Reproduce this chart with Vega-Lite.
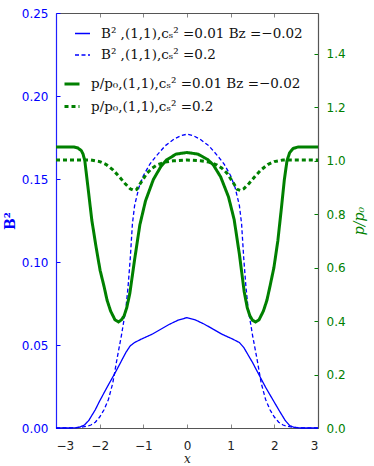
{
  "$schema": "https://vega.github.io/schema/vega-lite/v6.json",
  "width": 262,
  "height": 415,
  "autosize": {"type": "none"},
  "padding": {"left": 56, "top": 13, "right": 56, "bottom": 38},
  "background": "white",
  "config": {
    "view": {"stroke": null},
    "axis": {"grid": false, "labelFont": "DejaVu Sans", "labelFontSize": 12, "tickSize": -4, "tickWidth": 1, "domainWidth": 1.2},
    "legend": {"labelFont": "DejaVu Serif", "labelFontSize": 13.5, "labelLimit": 400, "labelColor": "#111", "symbolType": "stroke", "symbolSize": 225, "labelOffset": 10, "padding": 0, "rowPadding": 6.5, "orient": "none", "title": null}
  },
  "datasets": {
    "b2": [
      {"x": -3, "v": 0, "s": "B² ,(1,1),cₛ² =0.01 Bz =−0.02"},
      {"x": -2.7, "v": 0, "s": "B² ,(1,1),cₛ² =0.01 Bz =−0.02"},
      {"x": -2.55, "v": 0.0001, "s": "B² ,(1,1),cₛ² =0.01 Bz =−0.02"},
      {"x": -2.45, "v": 0.0006, "s": "B² ,(1,1),cₛ² =0.01 Bz =−0.02"},
      {"x": -2.35, "v": 0.0018, "s": "B² ,(1,1),cₛ² =0.01 Bz =−0.02"},
      {"x": -2.25, "v": 0.0045, "s": "B² ,(1,1),cₛ² =0.01 Bz =−0.02"},
      {"x": -2.1, "v": 0.011, "s": "B² ,(1,1),cₛ² =0.01 Bz =−0.02"},
      {"x": -2.0, "v": 0.0163, "s": "B² ,(1,1),cₛ² =0.01 Bz =−0.02"},
      {"x": -1.8, "v": 0.026, "s": "B² ,(1,1),cₛ² =0.01 Bz =−0.02"},
      {"x": -1.65, "v": 0.033, "s": "B² ,(1,1),cₛ² =0.01 Bz =−0.02"},
      {"x": -1.5, "v": 0.0405, "s": "B² ,(1,1),cₛ² =0.01 Bz =−0.02"},
      {"x": -1.4, "v": 0.0455, "s": "B² ,(1,1),cₛ² =0.01 Bz =−0.02"},
      {"x": -1.3, "v": 0.0495, "s": "B² ,(1,1),cₛ² =0.01 Bz =−0.02"},
      {"x": -1.2, "v": 0.0515, "s": "B² ,(1,1),cₛ² =0.01 Bz =−0.02"},
      {"x": -1.05, "v": 0.0535, "s": "B² ,(1,1),cₛ² =0.01 Bz =−0.02"},
      {"x": -0.8, "v": 0.0565, "s": "B² ,(1,1),cₛ² =0.01 Bz =−0.02"},
      {"x": -0.6, "v": 0.0595, "s": "B² ,(1,1),cₛ² =0.01 Bz =−0.02"},
      {"x": -0.4, "v": 0.0625, "s": "B² ,(1,1),cₛ² =0.01 Bz =−0.02"},
      {"x": -0.2, "v": 0.065, "s": "B² ,(1,1),cₛ² =0.01 Bz =−0.02"},
      {"x": 0, "v": 0.0665, "s": "B² ,(1,1),cₛ² =0.01 Bz =−0.02"},
      {"x": 0.2, "v": 0.065, "s": "B² ,(1,1),cₛ² =0.01 Bz =−0.02"},
      {"x": 0.4, "v": 0.0625, "s": "B² ,(1,1),cₛ² =0.01 Bz =−0.02"},
      {"x": 0.6, "v": 0.0595, "s": "B² ,(1,1),cₛ² =0.01 Bz =−0.02"},
      {"x": 0.8, "v": 0.0565, "s": "B² ,(1,1),cₛ² =0.01 Bz =−0.02"},
      {"x": 1.05, "v": 0.0535, "s": "B² ,(1,1),cₛ² =0.01 Bz =−0.02"},
      {"x": 1.2, "v": 0.0515, "s": "B² ,(1,1),cₛ² =0.01 Bz =−0.02"},
      {"x": 1.3, "v": 0.0485, "s": "B² ,(1,1),cₛ² =0.01 Bz =−0.02"},
      {"x": 1.4, "v": 0.044, "s": "B² ,(1,1),cₛ² =0.01 Bz =−0.02"},
      {"x": 1.5, "v": 0.0395, "s": "B² ,(1,1),cₛ² =0.01 Bz =−0.02"},
      {"x": 1.65, "v": 0.032, "s": "B² ,(1,1),cₛ² =0.01 Bz =−0.02"},
      {"x": 1.8, "v": 0.0245, "s": "B² ,(1,1),cₛ² =0.01 Bz =−0.02"},
      {"x": 2.0, "v": 0.0155, "s": "B² ,(1,1),cₛ² =0.01 Bz =−0.02"},
      {"x": 2.1, "v": 0.011, "s": "B² ,(1,1),cₛ² =0.01 Bz =−0.02"},
      {"x": 2.25, "v": 0.0045, "s": "B² ,(1,1),cₛ² =0.01 Bz =−0.02"},
      {"x": 2.35, "v": 0.0015, "s": "B² ,(1,1),cₛ² =0.01 Bz =−0.02"},
      {"x": 2.45, "v": 0.0004, "s": "B² ,(1,1),cₛ² =0.01 Bz =−0.02"},
      {"x": 2.6, "v": 0, "s": "B² ,(1,1),cₛ² =0.01 Bz =−0.02"},
      {"x": 3, "v": 0, "s": "B² ,(1,1),cₛ² =0.01 Bz =−0.02"},
      {"x": -3, "v": 0, "s": "B² ,(1,1),cₛ² =0.2"},
      {"x": -2.6, "v": 0.0001, "s": "B² ,(1,1),cₛ² =0.2"},
      {"x": -2.45, "v": 0.0004, "s": "B² ,(1,1),cₛ² =0.2"},
      {"x": -2.3, "v": 0.001, "s": "B² ,(1,1),cₛ² =0.2"},
      {"x": -2.2, "v": 0.0018, "s": "B² ,(1,1),cₛ² =0.2"},
      {"x": -2.1, "v": 0.0035, "s": "B² ,(1,1),cₛ² =0.2"},
      {"x": -2.0, "v": 0.0066, "s": "B² ,(1,1),cₛ² =0.2"},
      {"x": -1.9, "v": 0.011, "s": "B² ,(1,1),cₛ² =0.2"},
      {"x": -1.8, "v": 0.0172, "s": "B² ,(1,1),cₛ² =0.2"},
      {"x": -1.7, "v": 0.027, "s": "B² ,(1,1),cₛ² =0.2"},
      {"x": -1.6, "v": 0.042, "s": "B² ,(1,1),cₛ² =0.2"},
      {"x": -1.5, "v": 0.056, "s": "B² ,(1,1),cₛ² =0.2"},
      {"x": -1.4, "v": 0.072, "s": "B² ,(1,1),cₛ² =0.2"},
      {"x": -1.35, "v": 0.085, "s": "B² ,(1,1),cₛ² =0.2"},
      {"x": -1.3, "v": 0.102, "s": "B² ,(1,1),cₛ² =0.2"},
      {"x": -1.25, "v": 0.123, "s": "B² ,(1,1),cₛ² =0.2"},
      {"x": -1.2, "v": 0.134, "s": "B² ,(1,1),cₛ² =0.2"},
      {"x": -1.1, "v": 0.145, "s": "B² ,(1,1),cₛ² =0.2"},
      {"x": -1.0, "v": 0.152, "s": "B² ,(1,1),cₛ² =0.2"},
      {"x": -0.85, "v": 0.159, "s": "B² ,(1,1),cₛ² =0.2"},
      {"x": -0.7, "v": 0.164, "s": "B² ,(1,1),cₛ² =0.2"},
      {"x": -0.5, "v": 0.17, "s": "B² ,(1,1),cₛ² =0.2"},
      {"x": -0.3, "v": 0.174, "s": "B² ,(1,1),cₛ² =0.2"},
      {"x": -0.15, "v": 0.176, "s": "B² ,(1,1),cₛ² =0.2"},
      {"x": 0, "v": 0.177, "s": "B² ,(1,1),cₛ² =0.2"},
      {"x": 0.15, "v": 0.176, "s": "B² ,(1,1),cₛ² =0.2"},
      {"x": 0.3, "v": 0.174, "s": "B² ,(1,1),cₛ² =0.2"},
      {"x": 0.5, "v": 0.17, "s": "B² ,(1,1),cₛ² =0.2"},
      {"x": 0.7, "v": 0.164, "s": "B² ,(1,1),cₛ² =0.2"},
      {"x": 0.85, "v": 0.159, "s": "B² ,(1,1),cₛ² =0.2"},
      {"x": 1.0, "v": 0.152, "s": "B² ,(1,1),cₛ² =0.2"},
      {"x": 1.1, "v": 0.145, "s": "B² ,(1,1),cₛ² =0.2"},
      {"x": 1.2, "v": 0.134, "s": "B² ,(1,1),cₛ² =0.2"},
      {"x": 1.25, "v": 0.123, "s": "B² ,(1,1),cₛ² =0.2"},
      {"x": 1.3, "v": 0.102, "s": "B² ,(1,1),cₛ² =0.2"},
      {"x": 1.35, "v": 0.085, "s": "B² ,(1,1),cₛ² =0.2"},
      {"x": 1.4, "v": 0.072, "s": "B² ,(1,1),cₛ² =0.2"},
      {"x": 1.5, "v": 0.056, "s": "B² ,(1,1),cₛ² =0.2"},
      {"x": 1.6, "v": 0.042, "s": "B² ,(1,1),cₛ² =0.2"},
      {"x": 1.7, "v": 0.027, "s": "B² ,(1,1),cₛ² =0.2"},
      {"x": 1.8, "v": 0.0172, "s": "B² ,(1,1),cₛ² =0.2"},
      {"x": 1.9, "v": 0.011, "s": "B² ,(1,1),cₛ² =0.2"},
      {"x": 2.0, "v": 0.0066, "s": "B² ,(1,1),cₛ² =0.2"},
      {"x": 2.1, "v": 0.0035, "s": "B² ,(1,1),cₛ² =0.2"},
      {"x": 2.2, "v": 0.0018, "s": "B² ,(1,1),cₛ² =0.2"},
      {"x": 2.3, "v": 0.001, "s": "B² ,(1,1),cₛ² =0.2"},
      {"x": 2.45, "v": 0.0004, "s": "B² ,(1,1),cₛ² =0.2"},
      {"x": 2.6, "v": 0.0001, "s": "B² ,(1,1),cₛ² =0.2"},
      {"x": 3, "v": 0, "s": "B² ,(1,1),cₛ² =0.2"}
    ],
    "pp": [
      {"x": -3, "v": 1.052, "s": "p/p₀,(1,1),cₛ² =0.01 Bz =−0.02"},
      {"x": -2.6, "v": 1.052, "s": "p/p₀,(1,1),cₛ² =0.01 Bz =−0.02"},
      {"x": -2.5, "v": 1.048, "s": "p/p₀,(1,1),cₛ² =0.01 Bz =−0.02"},
      {"x": -2.42, "v": 1.038, "s": "p/p₀,(1,1),cₛ² =0.01 Bz =−0.02"},
      {"x": -2.38, "v": 1.025, "s": "p/p₀,(1,1),cₛ² =0.01 Bz =−0.02"},
      {"x": -2.34, "v": 1.0, "s": "p/p₀,(1,1),cₛ² =0.01 Bz =−0.02"},
      {"x": -2.26, "v": 0.89, "s": "p/p₀,(1,1),cₛ² =0.01 Bz =−0.02"},
      {"x": -2.18, "v": 0.778, "s": "p/p₀,(1,1),cₛ² =0.01 Bz =−0.02"},
      {"x": -2.08, "v": 0.675, "s": "p/p₀,(1,1),cₛ² =0.01 Bz =−0.02"},
      {"x": -1.99, "v": 0.59, "s": "p/p₀,(1,1),cₛ² =0.01 Bz =−0.02"},
      {"x": -1.9, "v": 0.53, "s": "p/p₀,(1,1),cₛ² =0.01 Bz =−0.02"},
      {"x": -1.83, "v": 0.478, "s": "p/p₀,(1,1),cₛ² =0.01 Bz =−0.02"},
      {"x": -1.75, "v": 0.438, "s": "p/p₀,(1,1),cₛ² =0.01 Bz =−0.02"},
      {"x": -1.65, "v": 0.405, "s": "p/p₀,(1,1),cₛ² =0.01 Bz =−0.02"},
      {"x": -1.57, "v": 0.397, "s": "p/p₀,(1,1),cₛ² =0.01 Bz =−0.02"},
      {"x": -1.5, "v": 0.405, "s": "p/p₀,(1,1),cₛ² =0.01 Bz =−0.02"},
      {"x": -1.44, "v": 0.42, "s": "p/p₀,(1,1),cₛ² =0.01 Bz =−0.02"},
      {"x": -1.38, "v": 0.45, "s": "p/p₀,(1,1),cₛ² =0.01 Bz =−0.02"},
      {"x": -1.31, "v": 0.503, "s": "p/p₀,(1,1),cₛ² =0.01 Bz =−0.02"},
      {"x": -1.2, "v": 0.63, "s": "p/p₀,(1,1),cₛ² =0.01 Bz =−0.02"},
      {"x": -1.08, "v": 0.76, "s": "p/p₀,(1,1),cₛ² =0.01 Bz =−0.02"},
      {"x": -0.95, "v": 0.85, "s": "p/p₀,(1,1),cₛ² =0.01 Bz =−0.02"},
      {"x": -0.77, "v": 0.93, "s": "p/p₀,(1,1),cₛ² =0.01 Bz =−0.02"},
      {"x": -0.6, "v": 0.978, "s": "p/p₀,(1,1),cₛ² =0.01 Bz =−0.02"},
      {"x": -0.47, "v": 1.003, "s": "p/p₀,(1,1),cₛ² =0.01 Bz =−0.02"},
      {"x": -0.25, "v": 1.025, "s": "p/p₀,(1,1),cₛ² =0.01 Bz =−0.02"},
      {"x": 0, "v": 1.031, "s": "p/p₀,(1,1),cₛ² =0.01 Bz =−0.02"},
      {"x": 0.25, "v": 1.025, "s": "p/p₀,(1,1),cₛ² =0.01 Bz =−0.02"},
      {"x": 0.47, "v": 1.005, "s": "p/p₀,(1,1),cₛ² =0.01 Bz =−0.02"},
      {"x": 0.6, "v": 0.985, "s": "p/p₀,(1,1),cₛ² =0.01 Bz =−0.02"},
      {"x": 0.77, "v": 0.94, "s": "p/p₀,(1,1),cₛ² =0.01 Bz =−0.02"},
      {"x": 0.95, "v": 0.865, "s": "p/p₀,(1,1),cₛ² =0.01 Bz =−0.02"},
      {"x": 1.08, "v": 0.78, "s": "p/p₀,(1,1),cₛ² =0.01 Bz =−0.02"},
      {"x": 1.2, "v": 0.65, "s": "p/p₀,(1,1),cₛ² =0.01 Bz =−0.02"},
      {"x": 1.31, "v": 0.51, "s": "p/p₀,(1,1),cₛ² =0.01 Bz =−0.02"},
      {"x": 1.38, "v": 0.45, "s": "p/p₀,(1,1),cₛ² =0.01 Bz =−0.02"},
      {"x": 1.44, "v": 0.42, "s": "p/p₀,(1,1),cₛ² =0.01 Bz =−0.02"},
      {"x": 1.5, "v": 0.403, "s": "p/p₀,(1,1),cₛ² =0.01 Bz =−0.02"},
      {"x": 1.57, "v": 0.397, "s": "p/p₀,(1,1),cₛ² =0.01 Bz =−0.02"},
      {"x": 1.65, "v": 0.405, "s": "p/p₀,(1,1),cₛ² =0.01 Bz =−0.02"},
      {"x": 1.75, "v": 0.438, "s": "p/p₀,(1,1),cₛ² =0.01 Bz =−0.02"},
      {"x": 1.83, "v": 0.478, "s": "p/p₀,(1,1),cₛ² =0.01 Bz =−0.02"},
      {"x": 1.9, "v": 0.53, "s": "p/p₀,(1,1),cₛ² =0.01 Bz =−0.02"},
      {"x": 1.99, "v": 0.6, "s": "p/p₀,(1,1),cₛ² =0.01 Bz =−0.02"},
      {"x": 2.08, "v": 0.7, "s": "p/p₀,(1,1),cₛ² =0.01 Bz =−0.02"},
      {"x": 2.16, "v": 0.82, "s": "p/p₀,(1,1),cₛ² =0.01 Bz =−0.02"},
      {"x": 2.23, "v": 0.93, "s": "p/p₀,(1,1),cₛ² =0.01 Bz =−0.02"},
      {"x": 2.29, "v": 1.0, "s": "p/p₀,(1,1),cₛ² =0.01 Bz =−0.02"},
      {"x": 2.35, "v": 1.03, "s": "p/p₀,(1,1),cₛ² =0.01 Bz =−0.02"},
      {"x": 2.43, "v": 1.046, "s": "p/p₀,(1,1),cₛ² =0.01 Bz =−0.02"},
      {"x": 2.55, "v": 1.052, "s": "p/p₀,(1,1),cₛ² =0.01 Bz =−0.02"},
      {"x": 3, "v": 1.052, "s": "p/p₀,(1,1),cₛ² =0.01 Bz =−0.02"},
      {"x": -3, "v": 1.003, "s": "p/p₀,(1,1),cₛ² =0.2"},
      {"x": -2.2, "v": 1.003, "s": "p/p₀,(1,1),cₛ² =0.2"},
      {"x": -2.0, "v": 0.997, "s": "p/p₀,(1,1),cₛ² =0.2"},
      {"x": -1.85, "v": 0.986, "s": "p/p₀,(1,1),cₛ² =0.2"},
      {"x": -1.69, "v": 0.965, "s": "p/p₀,(1,1),cₛ² =0.2"},
      {"x": -1.55, "v": 0.94, "s": "p/p₀,(1,1),cₛ² =0.2"},
      {"x": -1.42, "v": 0.915, "s": "p/p₀,(1,1),cₛ² =0.2"},
      {"x": -1.3, "v": 0.895, "s": "p/p₀,(1,1),cₛ² =0.2"},
      {"x": -1.22, "v": 0.889, "s": "p/p₀,(1,1),cₛ² =0.2"},
      {"x": -1.15, "v": 0.893, "s": "p/p₀,(1,1),cₛ² =0.2"},
      {"x": -1.08, "v": 0.912, "s": "p/p₀,(1,1),cₛ² =0.2"},
      {"x": -0.92, "v": 0.953, "s": "p/p₀,(1,1),cₛ² =0.2"},
      {"x": -0.8, "v": 0.972, "s": "p/p₀,(1,1),cₛ² =0.2"},
      {"x": -0.69, "v": 0.984, "s": "p/p₀,(1,1),cₛ² =0.2"},
      {"x": -0.5, "v": 0.995, "s": "p/p₀,(1,1),cₛ² =0.2"},
      {"x": -0.31, "v": 1.0, "s": "p/p₀,(1,1),cₛ² =0.2"},
      {"x": 0, "v": 1.003, "s": "p/p₀,(1,1),cₛ² =0.2"},
      {"x": 0.31, "v": 1.0, "s": "p/p₀,(1,1),cₛ² =0.2"},
      {"x": 0.5, "v": 0.995, "s": "p/p₀,(1,1),cₛ² =0.2"},
      {"x": 0.69, "v": 0.984, "s": "p/p₀,(1,1),cₛ² =0.2"},
      {"x": 0.8, "v": 0.972, "s": "p/p₀,(1,1),cₛ² =0.2"},
      {"x": 0.92, "v": 0.953, "s": "p/p₀,(1,1),cₛ² =0.2"},
      {"x": 1.08, "v": 0.912, "s": "p/p₀,(1,1),cₛ² =0.2"},
      {"x": 1.15, "v": 0.893, "s": "p/p₀,(1,1),cₛ² =0.2"},
      {"x": 1.22, "v": 0.889, "s": "p/p₀,(1,1),cₛ² =0.2"},
      {"x": 1.3, "v": 0.895, "s": "p/p₀,(1,1),cₛ² =0.2"},
      {"x": 1.42, "v": 0.915, "s": "p/p₀,(1,1),cₛ² =0.2"},
      {"x": 1.55, "v": 0.94, "s": "p/p₀,(1,1),cₛ² =0.2"},
      {"x": 1.69, "v": 0.965, "s": "p/p₀,(1,1),cₛ² =0.2"},
      {"x": 1.85, "v": 0.986, "s": "p/p₀,(1,1),cₛ² =0.2"},
      {"x": 2.0, "v": 0.997, "s": "p/p₀,(1,1),cₛ² =0.2"},
      {"x": 2.2, "v": 1.003, "s": "p/p₀,(1,1),cₛ² =0.2"},
      {"x": 3, "v": 1.003, "s": "p/p₀,(1,1),cₛ² =0.2"}
    ]
  },
  "layer": [
    {
      "data": {"name": "b2"},
      "mark": {"type": "line", "strokeWidth": 1.3},
      "encoding": {
        "x": {"field": "x", "type": "quantitative", "scale": {"domain": [-3, 3], "nice": false},
          "axis": {"orient": "bottom", "values": [-3, -2, -1, 0, 1, 2, 3], "format": "d", "title": "x", "titleFont": "DejaVu Serif", "titleFontStyle": "italic", "titleFontWeight": "normal", "titleFontSize": 12, "titleColor": "#222", "titlePadding": 2, "labelColor": "#222", "labelPadding": 16, "domainColor": "#555", "tickColor": "#888"}},
        "y": {"field": "v", "type": "quantitative", "scale": {"domain": [0, 0.25], "nice": false},
          "axis": {"orient": "left", "values": [0, 0.05, 0.1, 0.15, 0.2, 0.25], "format": ".2f", "title": "B²", "titleFont": "DejaVu Serif", "titleFontWeight": "bold", "titleFontSize": 14, "titleColor": "#0000ff", "labelColor": "#0000ff", "labelPadding": 12, "domainColor": "#2020ff", "tickColor": "#0000ff"}},
        "color": {"field": "s", "type": "nominal",
          "scale": {"domain": ["B² ,(1,1),cₛ² =0.01 Bz =−0.02", "B² ,(1,1),cₛ² =0.2"], "range": ["#0000ff", "#0000ff"]},
          "legend": {"legendX": 18, "legendY": 12, "symbolStrokeWidth": 1.3}},
        "strokeDash": {"field": "s", "type": "nominal",
          "scale": {"domain": ["B² ,(1,1),cₛ² =0.01 Bz =−0.02", "B² ,(1,1),cₛ² =0.2"], "range": [[1, 0], [4, 2.5]]},
          "legend": {"legendX": 18, "legendY": 12, "symbolStrokeWidth": 1.3}}
      }
    },
    {
      "data": {"name": "pp"},
      "mark": {"type": "line", "strokeWidth": 3},
      "encoding": {
        "x": {"field": "x", "type": "quantitative", "scale": {"domain": [-3, 3], "nice": false},
          "axis": {"orient": "top", "values": [-3, -2, -1, 0, 1, 2, 3], "labels": false, "title": null, "domainColor": "#555", "tickColor": "#888"}},
        "y": {"field": "v", "type": "quantitative", "scale": {"domain": [0, 1.553], "nice": false},
          "axis": {"orient": "right", "values": [0, 0.2, 0.4, 0.6, 0.8, 1.0, 1.2, 1.4], "format": ".1f", "title": "p/p₀", "titleAngle": -90, "titleFont": "DejaVu Serif", "titleFontStyle": "italic", "titleFontWeight": "normal", "titleFontSize": 14, "titleColor": "#008000", "titlePadding": 21, "labelColor": "#008000", "labelPadding": 12, "domainColor": "#555", "tickColor": "#008000"}},
        "color": {"field": "s", "type": "nominal",
          "scale": {"domain": ["p/p₀,(1,1),cₛ² =0.01 Bz =−0.02", "p/p₀,(1,1),cₛ² =0.2"], "range": ["#008000", "#008000"]},
          "legend": {"legendX": 7, "legendY": 62, "symbolStrokeWidth": 3}},
        "strokeDash": {"field": "s", "type": "nominal",
          "scale": {"domain": ["p/p₀,(1,1),cₛ² =0.01 Bz =−0.02", "p/p₀,(1,1),cₛ² =0.2"], "range": [[1, 0], [4, 3]]},
          "legend": {"legendX": 7, "legendY": 62, "symbolStrokeWidth": 3}}
      }
    }
  ],
  "resolve": {"scale": {"x": "independent", "y": "independent", "color": "independent", "strokeDash": "independent"}}
}
